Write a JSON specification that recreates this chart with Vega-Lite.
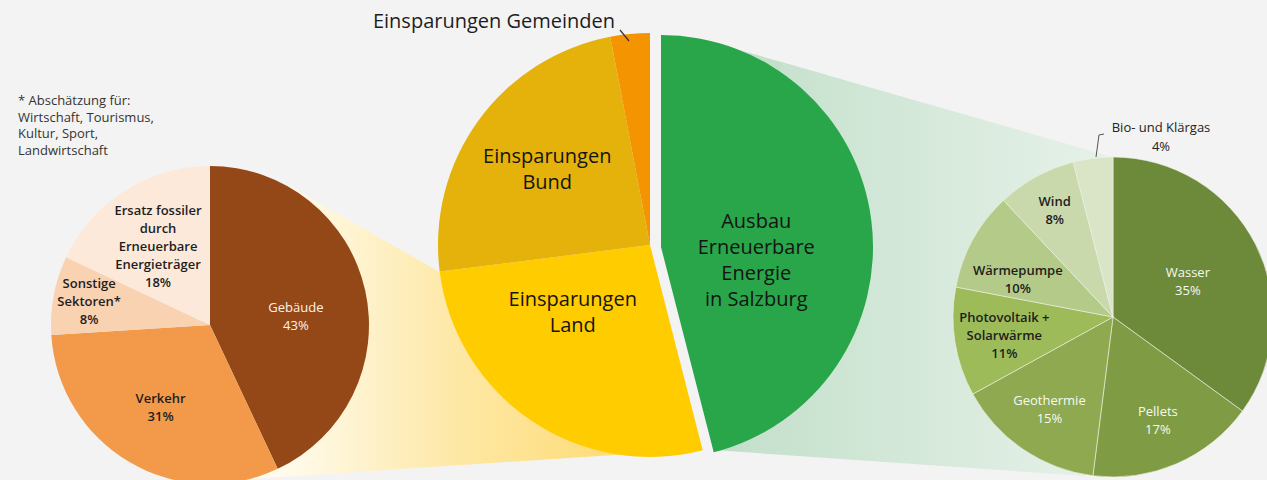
{
  "$schema": "https://vega.github.io/schema/vega-lite/v6.json",
  "width": 1267,
  "height": 480,
  "padding": 0,
  "autosize": {"type": "none"},
  "background": "#f3f3f3",
  "config": {"view": {"stroke": null}, "font": "Open Sans", "text": {"font": "Open Sans"}},
  "datasets": {
    "anteile": [
      {"gruppe": "Sektoren", "nr": 1, "name": "Gebäude", "anteil": 43, "label": "Gebäude\n43%"},
      {"gruppe": "Sektoren", "nr": 2, "name": "Verkehr", "anteil": 31, "label": "Verkehr\n31%"},
      {"gruppe": "Sektoren", "nr": 3, "name": "Sonstige Sektoren*", "anteil": 8, "label": "Sonstige\nSektoren*\n8%"},
      {"gruppe": "Sektoren", "nr": 4, "name": "Ersatz fossiler durch Erneuerbare Energieträger", "anteil": 18, "label": "Ersatz fossiler\ndurch\nErneuerbare\nEnergieträger\n18%"},
      {"gruppe": "Maßnahmen", "nr": 1, "name": "Ausbau Erneuerbare Energie in Salzburg", "anteil": 46, "label": "Ausbau\nErneuerbare\nEnergie\nin Salzburg"},
      {"gruppe": "Maßnahmen", "nr": 2, "name": "Einsparungen Land", "anteil": 27, "label": "Einsparungen\nLand"},
      {"gruppe": "Maßnahmen", "nr": 3, "name": "Einsparungen Bund", "anteil": 24, "label": "Einsparungen\nBund"},
      {"gruppe": "Maßnahmen", "nr": 4, "name": "Einsparungen Gemeinden", "anteil": 3, "label": "Einsparungen Gemeinden"},
      {"gruppe": "Erneuerbare", "nr": 1, "name": "Wasser", "anteil": 35, "label": "Wasser\n35%"},
      {"gruppe": "Erneuerbare", "nr": 2, "name": "Pellets", "anteil": 17, "label": "Pellets\n17%"},
      {"gruppe": "Erneuerbare", "nr": 3, "name": "Geothermie", "anteil": 15, "label": "Geothermie\n15%"},
      {"gruppe": "Erneuerbare", "nr": 4, "name": "Photovoltaik + Solarwärme", "anteil": 11, "label": "Photovoltaik +\nSolarwärme\n11%"},
      {"gruppe": "Erneuerbare", "nr": 5, "name": "Wärmepumpe", "anteil": 10, "label": "Wärmepumpe\n10%"},
      {"gruppe": "Erneuerbare", "nr": 6, "name": "Wind", "anteil": 8, "label": "Wind\n8%"},
      {"gruppe": "Erneuerbare", "nr": 7, "name": "Bio- und Klärgas", "anteil": 4, "label": "Bio- und Klärgas\n4%"}
    ]
  },
  "layer": [
    {
      "data": {"values": [{}]},
      "mark": {"type": "arc", "theta": 4.6463, "theta2": 5.2327, "outerRadius": 522, "innerRadius": 62, "stroke": null,
        "fill": {"gradient": "linear", "x1": 0, "y1": 0, "x2": 1, "y2": 0, "stops": [
          {"offset": 0, "color": "#fffdf7"}, {"offset": 0.15, "color": "#fffaea"}, {"offset": 0.5, "color": "#fee8a6"}, {"offset": 1, "color": "#fdd660"}]}},
      "encoding": {
        "x": {"datum": 743.5, "type": "quantitative", "scale": {"domain": [0, 1267], "nice": false, "zero": false}, "axis": null},
        "y": {"datum": 446.3, "type": "quantitative", "scale": {"domain": [0, 480], "nice": false, "zero": false, "reverse": true}, "axis": null}
      }
    },
    {
      "data": {"values": [{}]},
      "mark": {"type": "arc", "theta": 4.9480, "theta2": 4.99147, "outerRadius": 1953, "innerRadius": 1840, "stroke": null, "fill": "#c3e0cb"},
      "encoding": {
        "x": {"datum": 2596, "type": "quantitative", "scale": {"domain": [0, 1267], "nice": false, "zero": false}, "axis": null},
        "y": {"datum": 582, "type": "quantitative", "scale": {"domain": [0, 480], "nice": false, "zero": false, "reverse": true}, "axis": null}
      }
    },
    {
      "data": {"values": [{}]},
      "mark": {"type": "arc", "theta": 4.78238, "theta2": 4.99147, "outerRadius": 1887, "innerRadius": 1515, "stroke": null,
        "fill": {"gradient": "linear", "x1": 0, "y1": 0, "x2": 1, "y2": 0, "stops": [
          {"offset": 0, "color": "#c2dfca"}, {"offset": 1, "color": "#e9f3eb"}]}},
      "encoding": {
        "x": {"datum": 2596, "type": "quantitative", "scale": {"domain": [0, 1267], "nice": false, "zero": false}, "axis": null},
        "y": {"datum": 582, "type": "quantitative", "scale": {"domain": [0, 480], "nice": false, "zero": false, "reverse": true}, "axis": null}
      }
    },
    {
      "data": {"name": "anteile"},
      "transform": [{"filter": "datum.gruppe == 'Sektoren'"}],
      "mark": {"type": "arc", "outerRadius": 159, "stroke": null},
      "encoding": {
        "x": {"datum": 210, "type": "quantitative", "scale": {"domain": [0, 1267], "nice": false, "zero": false}, "axis": null},
        "y": {"datum": 325, "type": "quantitative", "scale": {"domain": [0, 480], "nice": false, "zero": false, "reverse": true}, "axis": null},
        "theta": {"field": "anteil", "type": "quantitative", "stack": true, "scale": {"domain": [0, 100]}},
        "order": {"field": "nr", "type": "quantitative"},
        "color": {"field": "name", "type": "nominal", "legend": null, "scale": {
          "domain": ["Gebäude", "Verkehr", "Sonstige Sektoren*", "Ersatz fossiler durch Erneuerbare Energieträger", "Ausbau Erneuerbare Energie in Salzburg", "Einsparungen Land", "Einsparungen Bund", "Einsparungen Gemeinden", "Wasser", "Pellets", "Geothermie", "Photovoltaik + Solarwärme", "Wärmepumpe", "Wind", "Bio- und Klärgas"],
          "range": ["#954817", "#f29a4a", "#f9d2b1", "#fde9d9", "#29a54a", "#ffcc00", "#e4b20b", "#f39400", "#6d8a3b", "#7f9c44", "#8ea94f", "#9dbb59", "#b4ca89", "#c9d9ac", "#d9e5c6"]}}
      }
    },
    {
      "data": {"name": "anteile"},
      "transform": [{"filter": "datum.gruppe == 'Sektoren'"}],
      "mark": {"type": "text", "fontSize": 13, "lineBreak": "\n", "lineHeight": 18, "align": "center", "baseline": "middle",
        "radius": {"expr": "datum.name == 'Sonstige Sektoren*' ? 123 : datum.name == 'Gebäude' ? 88 : 97"},
        "dy": {"expr": "-(length(split(datum.label, '\\n')) - 1) * 9 + (datum.name == 'Gebäude' ? 11 : 0) + (datum.gruppe == 'Sektoren' && datum.nr == 4 ? 4 : 0)"},
        "fontWeight": {"expr": "datum.name == 'Gebäude' ? 'normal' : 600"}},
      "encoding": {
        "x": {"datum": 210, "type": "quantitative", "scale": {"domain": [0, 1267], "nice": false, "zero": false}, "axis": null},
        "y": {"datum": 325, "type": "quantitative", "scale": {"domain": [0, 480], "nice": false, "zero": false, "reverse": true}, "axis": null},
        "theta": {"field": "anteil", "type": "quantitative", "stack": true, "scale": {"domain": [0, 100]}},
        "order": {"field": "nr", "type": "quantitative"},
        "detail": {"field": "name", "type": "nominal"},
        "text": {"field": "label", "type": "nominal"},
        "color": {"condition": {"test": "datum.name == 'Gebäude'", "value": "#fbf3ec"}, "value": "#1e1e1e"}
      }
    },
    {
      "data": {"name": "anteile"},
      "transform": [{"filter": "datum.gruppe == 'Maßnahmen'"}],
      "mark": {"type": "arc", "outerRadius": 212, "stroke": null},
      "encoding": {
        "x": {"datum": 650, "type": "quantitative", "scale": {"domain": [0, 1267], "nice": false, "zero": false}, "axis": null},
        "y": {"datum": 245, "type": "quantitative", "scale": {"domain": [0, 480], "nice": false, "zero": false, "reverse": true}, "axis": null},
        "theta": {"field": "anteil", "type": "quantitative", "stack": true, "scale": {"domain": [0, 100]}},
        "order": {"field": "nr", "type": "quantitative"},
        "color": {"field": "name", "type": "nominal", "legend": null},
        "opacity": {"condition": {"test": "datum.name == 'Ausbau Erneuerbare Energie in Salzburg'", "value": 0}, "value": 1}
      }
    },
    {
      "data": {"name": "anteile"},
      "transform": [{"filter": "datum.name == 'Ausbau Erneuerbare Energie in Salzburg'"}],
      "mark": {"type": "arc", "outerRadius": 212, "stroke": null},
      "encoding": {
        "x": {"datum": 661, "type": "quantitative", "scale": {"domain": [0, 1267], "nice": false, "zero": false}, "axis": null},
        "y": {"datum": 247, "type": "quantitative", "scale": {"domain": [0, 480], "nice": false, "zero": false, "reverse": true}, "axis": null},
        "theta": {"field": "anteil", "type": "quantitative", "stack": true, "scale": {"domain": [0, 100]}},
        "order": {"field": "nr", "type": "quantitative"},
        "color": {"field": "name", "type": "nominal", "legend": null}
      }
    },
    {
      "data": {"name": "anteile"},
      "transform": [{"filter": "datum.gruppe == 'Maßnahmen'"}],
      "mark": {"type": "text", "fontSize": 20, "lineBreak": "\n", "lineHeight": 26, "align": "center", "baseline": "middle", "color": "#141414",
        "radius": {"expr": "datum.name == 'Einsparungen Bund' ? 127 : 100"},
        "dx": {"expr": "datum.name == 'Einsparungen Land' ? -21 : 0"},
        "dy": {"expr": "datum.name == 'Einsparungen Land' ? -28 : -13"}},
      "encoding": {
        "x": {"datum": 650, "type": "quantitative", "scale": {"domain": [0, 1267], "nice": false, "zero": false}, "axis": null},
        "y": {"datum": 245, "type": "quantitative", "scale": {"domain": [0, 480], "nice": false, "zero": false, "reverse": true}, "axis": null},
        "theta": {"field": "anteil", "type": "quantitative", "stack": true, "scale": {"domain": [0, 100]}},
        "order": {"field": "nr", "type": "quantitative"},
        "detail": {"field": "name", "type": "nominal"},
        "text": {"field": "label", "type": "nominal"},
        "opacity": {"condition": {"test": "datum.name == 'Einsparungen Land' || datum.name == 'Einsparungen Bund'", "value": 1}, "value": 0}
      }
    },
    {
      "data": {"name": "anteile"},
      "transform": [{"filter": "datum.name == 'Ausbau Erneuerbare Energie in Salzburg'"}],
      "mark": {"type": "text", "fontSize": 20, "lineBreak": "\n", "lineHeight": 26, "align": "center", "baseline": "middle", "color": "#141414", "radius": 96, "dy": -13},
      "encoding": {
        "x": {"datum": 661, "type": "quantitative", "scale": {"domain": [0, 1267], "nice": false, "zero": false}, "axis": null},
        "y": {"datum": 247, "type": "quantitative", "scale": {"domain": [0, 480], "nice": false, "zero": false, "reverse": true}, "axis": null},
        "theta": {"field": "anteil", "type": "quantitative", "stack": true, "scale": {"domain": [0, 100]}},
        "order": {"field": "nr", "type": "quantitative"},
        "detail": {"field": "name", "type": "nominal"},
        "text": {"field": "label", "type": "nominal"}
      }
    },
    {
      "data": {"name": "anteile"},
      "transform": [{"filter": "datum.gruppe == 'Erneuerbare'"}],
      "mark": {"type": "arc", "outerRadius": 160, "stroke": "#eef2e6", "strokeWidth": 0.6},
      "encoding": {
        "x": {"datum": 1113, "type": "quantitative", "scale": {"domain": [0, 1267], "nice": false, "zero": false}, "axis": null},
        "y": {"datum": 317, "type": "quantitative", "scale": {"domain": [0, 480], "nice": false, "zero": false, "reverse": true}, "axis": null},
        "theta": {"field": "anteil", "type": "quantitative", "stack": true, "scale": {"domain": [0, 100]}},
        "order": {"field": "nr", "type": "quantitative"},
        "color": {"field": "name", "type": "nominal", "legend": null}
      }
    },
    {
      "data": {"name": "anteile"},
      "transform": [{"filter": "datum.gruppe == 'Erneuerbare'"}],
      "mark": {"type": "text", "fontSize": 13, "lineBreak": "\n", "lineHeight": 18, "align": "center", "baseline": "middle",
        "radius": {"expr": "datum.name == 'Wasser' ? 84 : datum.name == 'Wind' ? 121 : datum.name == 'Wärmepumpe' ? 104 : datum.name == 'Photovoltaik + Solarwärme' ? 110 : 113"},
        "dx": {"expr": "datum.name == 'Wärmepumpe' ? -4 : 0"},
        "dy": {"expr": "-(length(split(datum.label, '\\n')) - 1) * 9 + (datum.name == 'Wärmepumpe' ? 13 : datum.name == 'Photovoltaik + Solarwärme' ? 2 : datum.name == 'Wasser' ? 3 : 0)"},
        "fontWeight": {"expr": "indexof(['Wasser', 'Pellets', 'Geothermie'], datum.name) >= 0 ? 'normal' : 600"}},
      "encoding": {
        "x": {"datum": 1113, "type": "quantitative", "scale": {"domain": [0, 1267], "nice": false, "zero": false}, "axis": null},
        "y": {"datum": 317, "type": "quantitative", "scale": {"domain": [0, 480], "nice": false, "zero": false, "reverse": true}, "axis": null},
        "theta": {"field": "anteil", "type": "quantitative", "stack": true, "scale": {"domain": [0, 100]}},
        "order": {"field": "nr", "type": "quantitative"},
        "detail": {"field": "name", "type": "nominal"},
        "text": {"field": "label", "type": "nominal"},
        "color": {"condition": {"test": "indexof(['Wasser', 'Pellets', 'Geothermie'], datum.name) >= 0", "value": "#f7f9f2"}, "value": "#1e1e1e"},
        "opacity": {"condition": {"test": "datum.name == 'Bio- und Klärgas'", "value": 0}, "value": 1}
      }
    },
    {
      "data": {"name": "anteile"},
      "transform": [{"filter": "datum.name == 'Bio- und Klärgas'"}],
      "mark": {"type": "text", "fontSize": 13, "lineBreak": "\n", "lineHeight": 19, "align": "center", "baseline": "middle", "color": "#222222"},
      "encoding": {
        "x": {"datum": 1161, "type": "quantitative", "scale": {"domain": [0, 1267], "nice": false, "zero": false}, "axis": null},
        "y": {"datum": 128, "type": "quantitative", "scale": {"domain": [0, 480], "nice": false, "zero": false, "reverse": true}, "axis": null},
        "text": {"field": "label", "type": "nominal"}
      }
    },
    {
      "data": {"values": [{}]},
      "mark": {"type": "rule", "color": "#555555", "strokeWidth": 1},
      "encoding": {
        "x": {"datum": 1104, "type": "quantitative", "scale": {"domain": [0, 1267], "nice": false, "zero": false}, "axis": null},
        "x2": {"datum": 1099},
        "y": {"datum": 134, "type": "quantitative", "scale": {"domain": [0, 480], "nice": false, "zero": false, "reverse": true}, "axis": null},
        "y2": {"datum": 135}
      }
    },
    {
      "data": {"values": [{}]},
      "mark": {"type": "rule", "color": "#555555", "strokeWidth": 1},
      "encoding": {
        "x": {"datum": 1099, "type": "quantitative", "scale": {"domain": [0, 1267], "nice": false, "zero": false}, "axis": null},
        "x2": {"datum": 1096},
        "y": {"datum": 135, "type": "quantitative", "scale": {"domain": [0, 480], "nice": false, "zero": false, "reverse": true}, "axis": null},
        "y2": {"datum": 157}
      }
    },
    {
      "data": {"name": "anteile"},
      "transform": [{"filter": "datum.name == 'Einsparungen Gemeinden'"}],
      "mark": {"type": "text", "fontSize": 20, "align": "center", "baseline": "middle", "color": "#1e1e1e"},
      "encoding": {
        "x": {"datum": 494, "type": "quantitative", "scale": {"domain": [0, 1267], "nice": false, "zero": false}, "axis": null},
        "y": {"datum": 22, "type": "quantitative", "scale": {"domain": [0, 480], "nice": false, "zero": false, "reverse": true}, "axis": null},
        "text": {"field": "label", "type": "nominal"}
      }
    },
    {
      "data": {"values": [{}]},
      "mark": {"type": "rule", "color": "#333333", "strokeWidth": 1.2},
      "encoding": {
        "x": {"datum": 620, "type": "quantitative", "scale": {"domain": [0, 1267], "nice": false, "zero": false}, "axis": null},
        "x2": {"datum": 629},
        "y": {"datum": 30, "type": "quantitative", "scale": {"domain": [0, 480], "nice": false, "zero": false, "reverse": true}, "axis": null},
        "y2": {"datum": 41}
      }
    },
    {
      "data": {"values": [{}]},
      "mark": {"type": "text", "text": "* Abschätzung für:\nWirtschaft, Tourismus,\nKultur, Sport,\nLandwirtschaft", "lineBreak": "\n", "fontSize": 13, "lineHeight": 16.5, "align": "left", "baseline": "top", "color": "#333333"},
      "encoding": {
        "x": {"datum": 18, "type": "quantitative", "scale": {"domain": [0, 1267], "nice": false, "zero": false}, "axis": null},
        "y": {"datum": 95, "type": "quantitative", "scale": {"domain": [0, 480], "nice": false, "zero": false, "reverse": true}, "axis": null}
      }
    }
  ]
}
